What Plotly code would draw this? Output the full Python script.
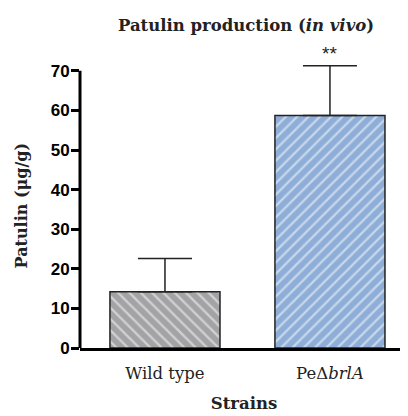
import plotly.graph_objects as go

strains = ["Wild type", "Pe\u0394<i>brlA</i>"]
patulin = [14.2, 58.7]
err_up = [8.4, 12.6]
bar_colors = ["#a3a3a6", "#8eaed8"]
hatch = ["\\", "/"]
sig = "**"
yticks = [0, 10, 20, 30, 40, 50, 60, 70]

fig = go.Figure()
for i in range(2):
    fig.add_trace(go.Bar(
        x=[i], y=[patulin[i]], width=0.667,
        marker=dict(color=bar_colors[i], line=dict(color="#222", width=1.5),
                    pattern=dict(shape=hatch[i], fgcolor="white", size=8, solidity=0.28)),
        error_y=dict(type="data", symmetric=False, array=[err_up[i]], arrayminus=[0],
                     color="#222", thickness=1.5, width=27),
        showlegend=False,
    ))

fig.add_annotation(x=1, y=patulin[1] + err_up[1], text=sig, showarrow=False,
                   yshift=12, font=dict(family="Liberation Sans", size=19, color="#222"))

# y axis title as a rotated annotation for exact placement
fig.add_annotation(xref="paper", yref="y", x=-0.18, y=36, xanchor="center", yanchor="middle",
                   text="Patulin (\u03bcg/g)", textangle=-90, showarrow=False,
                   font=dict(family="DejaVu Serif", size=16, color="#222", weight="bold"))

# y axis line spans only the labelled range
fig.add_shape(type="line", xref="paper", yref="y", x0=0, x1=0, y0=0, y1=yticks[-1],
              line=dict(color="black", width=3))

fig.update_layout(
    width=400, height=408,
    margin=dict(l=72, r=0, t=43, b=68),
    plot_bgcolor="white", paper_bgcolor="white",
    title=dict(text="Patulin production (<i>in vivo</i>)", x=0.595, xanchor="center",
               y=0.958, yanchor="middle",
               font=dict(family="DejaVu Serif", size=16.5, color="#222", weight="bold")),
    xaxis=dict(
        tickmode="array", tickvals=[0, 1], ticktext=strains,
        range=[-0.515, 1.473], showline=True, linecolor="black", linewidth=3,
        ticks="", showgrid=False, zeroline=False, ticklabelstandoff=8,
        tickfont=dict(family="DejaVu Serif", size=16.5, color="#222"),
        title=dict(text="Strains", standoff=16,
                   font=dict(family="DejaVu Serif", size=16.5, color="#222", weight="bold")),
    ),
    yaxis=dict(
        range=[0, 75], tickvals=yticks,
        showline=False,
        ticks="outside", ticklen=8, tickwidth=3, tickcolor="black",
        showgrid=False, zeroline=False, ticklabelstandoff=-2,
        tickfont=dict(family="Liberation Sans", size=17, color="black", weight="bold"),
    ),
)

fig.write_html("out.html")
